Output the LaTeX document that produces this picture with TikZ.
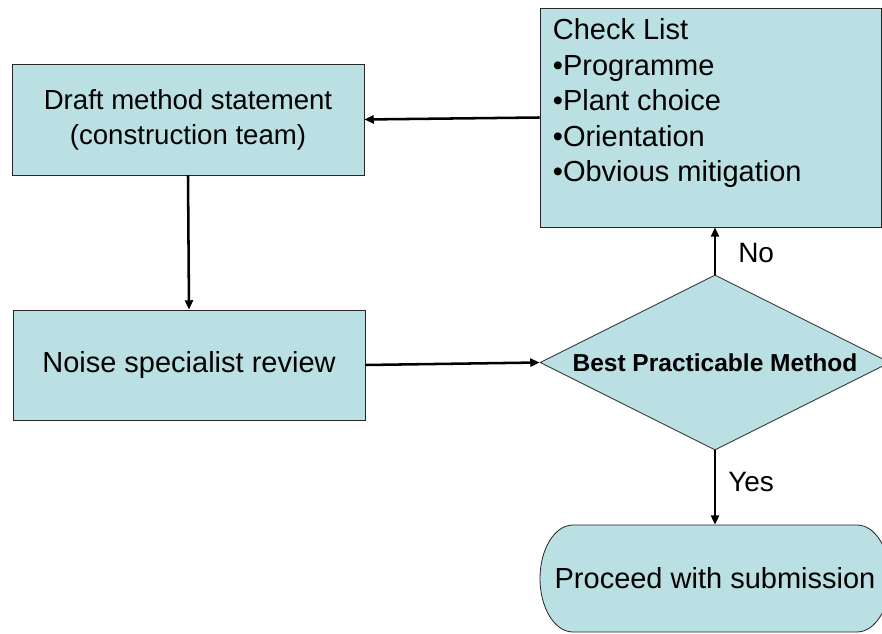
\documentclass[tikz,border=0pt]{standalone}
\usepackage{fontspec}
\setmainfont{Liberation Sans}
\usetikzlibrary{shapes,arrows.meta}
\definecolor{boxblue}{RGB}{187,224,227}

\begin{document}
\begin{tikzpicture}[x=0.75pt,y=-0.75pt,
    box/.style={draw=black!85,line width=0.6pt,fill=boxblue,inner sep=0pt},
    arr/.style={line width=1.9pt,-{Triangle[length=7pt,width=6pt]}},
    bigtext/.style={font=\fontsize{21.75}{26.6}\selectfont},
    lbl/.style={inner sep=0pt,font=\fontsize{21}{25}\selectfont}]
\path[use as bounding box] (0,0) rectangle (882,634);

\node[box,minimum width=264pt,minimum height=83.25pt,align=center,
      font=\fontsize{20.7}{26.25}\selectfont] (draft) at (188,119.5)
      {Draft method statement\\(construction team)};
\node[box,bigtext,minimum width=264pt,minimum height=82.5pt] (noise) at (189,365)
      {Noise specialist review};
\node[box,minimum width=255.75pt,minimum height=164.25pt] (check) at (710.5,117.5) {};
\node[anchor=north west,align=left,inner sep=0pt,bigtext] (checktxt)
      at ([shift={(13,11)}]check.north west)
      {Check List\\•Programme\\•Plant choice\\•Orientation\\•Obvious mitigation};
\node[box,diamond,aspect=2,minimum width=262.5pt,minimum height=131.25pt,
      font=\bfseries\fontsize{18.4}{22}\selectfont] (bpm) at (715,362.5)
      {Best Practicable Method};

% terminal with flat elliptic ends
\coordinate (subc) at (715,578.5);
\draw[box] ([shift={(-142,-53.5)}]subc) -- ([shift={(142,-53.5)}]subc)
      arc[start angle=90,end angle=-90,x radius=24.75pt,y radius=40.125pt]
      -- ([shift={(-142,53.5)}]subc)
      arc[start angle=270,end angle=90,x radius=24.75pt,y radius=40.125pt] -- cycle;
\node[bigtext,inner sep=0pt,minimum width=262.5pt,minimum height=80.25pt] (submit) at (subc)
      {Proceed with submission};

\draw[arr] (check.west) -- (draft.east);
\draw[arr] (draft.south) -- (noise.north);
\draw[arr] (noise.east) -- (bpm.west);
\draw[arr] (bpm.north) -- (bpm.north |- check.south)
      node[lbl,midway,anchor=west,xshift=16.5pt,yshift=-1.5pt] (no) {No};
\draw[arr] (bpm.south) -- (submit.north)
      node[lbl,midway,anchor=west,xshift=9pt,yshift=4.5pt] (yes) {Yes};
\end{tikzpicture}
\end{document}
